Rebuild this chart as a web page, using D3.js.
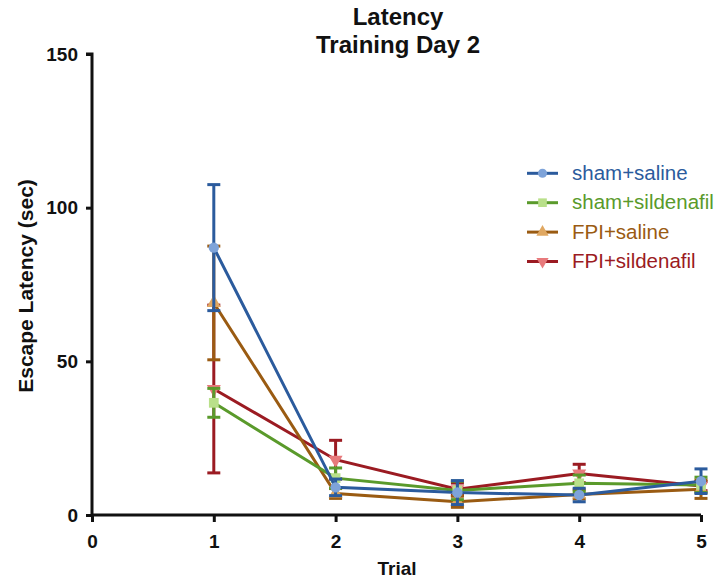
<!DOCTYPE html>
<html><head><meta charset="utf-8">
<script src="https://cdnjs.cloudflare.com/ajax/libs/d3/7.8.5/d3.min.js"></script>
<style>body{margin:0;background:#fff}svg{display:block}text{font-family:"Liberation Sans",Arial,sans-serif}</style>
</head><body><svg id="c" width="718" height="581"></svg>
<script>
const trials = [1, 2, 3, 4, 5];
const xTicks = [0, 1, 2, 3, 4, 5];
const yTicks = [0, 50, 100, 150];
const seriesNames = ["sham+saline", "sham+sildenafil", "FPI+saline", "FPI+sildenafil"];
const shamSalineMean = [87, 9, 7.3, 6.5, 11];
const shamSalineSem  = [20.5, 2.7, 3.9, 2.2, 4];
const shamSildMean   = [36.5, 12, 8, 10.3, 9.8];
const shamSildSem    = [4.7, 3.3, 3, 2.7, 2.5];
const fpiSalineMean  = [69, 7, 4.3, 6.7, 8.4];
const fpiSalineSem   = [18.5, 1.6, 1.8, 1.5, 3];
const fpiSildMean    = [41, 18, 8.4, 13.5, 9.4];
const fpiSildSem     = [27.3, 6.3, 2, 3, 1.5];

const lineColors = ["#2b5b9d", "#5a9a2b", "#9a5b12", "#9b1b22"];
const markColors = ["#7ea3d9", "#b9e08a", "#e0a862", "#e87a7c"];
const shapes = [d3.symbolCircle, d3.symbolSquare, d3.symbolTriangle, d3.symbolTriangle];
const rotations = [0, 0, 0, 180];

const series = [
  {name: seriesNames[0], mean: shamSalineMean, sem: shamSalineSem},
  {name: seriesNames[1], mean: shamSildMean, sem: shamSildSem},
  {name: seriesNames[2], mean: fpiSalineMean, sem: fpiSalineSem},
  {name: seriesNames[3], mean: fpiSildMean, sem: fpiSildSem}
];

const svg = d3.select("#c");
const x = d3.scaleLinear().domain([0, 5]).range([92, 701]);
const y = d3.scaleLinear().domain([0, 150]).range([515, 54]);

// title
svg.append("text").attr("x", 398).attr("y", 25).attr("text-anchor", "middle")
  .attr("font-size", 24).attr("font-weight", "bold").attr("fill", "#111").text("Latency");
svg.append("text").attr("x", 398).attr("y", 53).attr("text-anchor", "middle")
  .attr("font-size", 24).attr("font-weight", "bold").attr("fill", "#111").text("Training Day 2");

// axes
const tickFont = "'Liberation Sans Narrow','Liberation Sans',Arial,sans-serif";
const ya = svg.append("g").attr("transform", "translate(92,0)")
  .call(d3.axisLeft(y).tickValues(yTicks).tickSize(6).tickPadding(8).tickFormat(d3.format("d")));
const xa = svg.append("g").attr("transform", "translate(0,515)")
  .call(d3.axisBottom(x).tickValues(xTicks).tickSize(7).tickFormat(d3.format("d")));
[ya, xa].forEach(a => {
  a.select(".domain").attr("stroke", "#111").attr("stroke-width", 3);
  a.selectAll(".tick line").attr("stroke", "#111").attr("stroke-width", 3);
  a.selectAll(".tick text").attr("font-size", 19).attr("font-weight", "bold")
    .attr("fill", "#111").attr("font-family", tickFont);
});
xa.selectAll(".tick text").attr("y", 33).attr("dy", 0);
ya.select(".domain").attr("d", "M-6,54H0V515");
xa.select(".domain").attr("d", "M92,0H701");

svg.append("text").attr("transform", "translate(33,286) rotate(-90)")
  .attr("text-anchor", "middle").attr("font-size", 21).attr("font-weight", "bold").attr("fill", "#111")
  .text("Escape Latency (sec)");
svg.append("text").attr("x", 397).attr("y", 575).attr("text-anchor", "middle")
  .attr("font-size", 19).attr("font-weight", "bold").attr("fill", "#111").text("Trial");

const line = d3.line().x(d => x(d.t)).y(d => y(d.m));
const drawOrder = [3, 2, 1, 0];
drawOrder.forEach(i => {
  const s = series[i];
  const pts = trials.map((t, k) => ({t, m: s.mean[k], e: s.sem[k]}));
  const g = svg.append("g");
  pts.forEach(p => {
    g.append("line").attr("x1", x(p.t)).attr("x2", x(p.t)).attr("y1", y(p.m - p.e)).attr("y2", y(p.m + p.e))
      .attr("stroke", lineColors[i]).attr("stroke-width", 3);
    [p.m - p.e, p.m + p.e].forEach(v => {
      g.append("line").attr("x1", x(p.t) - 6.5).attr("x2", x(p.t) + 6.5).attr("y1", y(v)).attr("y2", y(v))
        .attr("stroke", lineColors[i]).attr("stroke-width", 3);
    });
  });
  g.append("path").datum(pts).attr("d", line).attr("fill", "none")
    .attr("stroke", lineColors[i]).attr("stroke-width", 3);
  g.selectAll(".m").data(pts).enter().append("path")
    .attr("d", d3.symbol().type(shapes[i]).size(i === 1 ? 95 : 85))
    .attr("transform", d => `translate(${x(d.t)},${y(d.m)}) rotate(${rotations[i]})`)
    .attr("fill", markColors[i]);
});

// legend
const leg = svg.append("g");
series.forEach((s, i) => {
  const yy = 173.3 + i * 29.4;
  leg.append("line").attr("x1", 527).attr("x2", 558).attr("y1", yy).attr("y2", yy)
    .attr("stroke", lineColors[i]).attr("stroke-width", 3);
  leg.append("path").attr("d", d3.symbol().type(shapes[i]).size(i === 1 ? 75 : 65))
    .attr("transform", `translate(542.5,${yy}) rotate(${rotations[i]})`).attr("fill", markColors[i]);
  leg.append("text").attr("x", 572).attr("y", yy + 6.5).attr("font-size", 20.5)
    .attr("fill", lineColors[i]).text(s.name);
});
</script></body></html>
